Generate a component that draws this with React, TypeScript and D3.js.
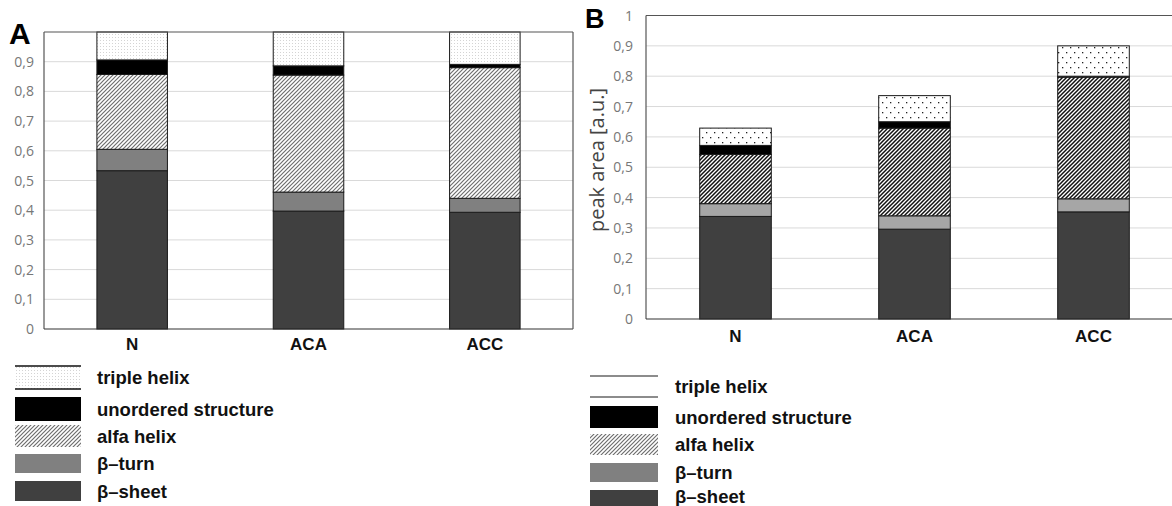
import React from "react";
import * as d3 from "d3";

// Secondary-structure fractions, stacked bottom to top
const categories = ["N", "ACA", "ACC"];
const structures = ["sheet", "turn", "alfa", "unordered", "triple"];

// Panel A: relative contribution (sums to 1)
const sheetA = [0.533, 0.397, 0.393];
const turnA = [0.072, 0.064, 0.047];
const alfaA = [0.252, 0.394, 0.44];
const unorderedA = [0.049, 0.031, 0.011];
const tripleA = [0.094, 0.114, 0.109];

// Panel B: absolute peak area [a.u.]
const sheetB = [0.338, 0.296, 0.353];
const turnB = [0.042, 0.044, 0.043];
const alfaB = [0.162, 0.289, 0.401];
const unorderedB = [0.03, 0.021, 0.003];
const tripleB = [0.057, 0.086, 0.1];

const yTicksA = [0, 0.1, 0.2, 0.3, 0.4, 0.5, 0.6, 0.7, 0.8, 0.9];
const yTicksB = [0, 0.1, 0.2, 0.3, 0.4, 0.5, 0.6, 0.7, 0.8, 0.9, 1];

const legendLabels = ["triple helix", "unordered structure", "alfa helix", "β–turn", "β–sheet"];

const fmt = (v: number) => String(+v.toFixed(1)).replace(".", ",");

function buildRows(cols: number[][]) {
  return categories.map((c, i) => {
    const row: any = { cat: c };
    structures.forEach((s, k) => (row[s] = cols[k][i]));
    return row;
  });
}

type PanelProps = {
  id: string;
  rows: any[];
  ticks: number[];
  x0: number;
  x1: number;
  y0: number;
  y1: number;
  fills: Record<string, string>;
  boxRight: boolean;
  tickX: number;
  catY: number;
};

function Panel({ id, rows, ticks, x0, x1, y0, y1, fills, boxRight, tickX, catY }: PanelProps) {
  const x = d3.scaleBand().domain(categories).range([x0, x1]).paddingInner(0.6).paddingOuter(0.3);
  const y = d3.scaleLinear().domain([0, 1]).range([y0, y1]);
  const series = d3.stack().keys(structures)(rows);
  return (
    <g>
      {ticks.map((t) => (
        <g key={id + "t" + t}>
          {t > 0 && t < 1 && (
            <line x1={x0} x2={x1} y1={y(t)} y2={y(t)} stroke="#d9d9d9" strokeWidth={1} />
          )}
          <text
            x={tickX}
            y={y(t)}
            dy="0.36em"
            textAnchor="end"
            fontFamily="Open Sans, sans-serif"
            fontSize={14}
            fill="#777"
          >
            {fmt(t)}
          </text>
        </g>
      ))}
      {series.map((s) =>
        s.map((d: any, i: number) => {
          const h = y(d[0]) - y(d[1]);
          if (h <= 0) return null;
          return (
            <rect
              key={id + s.key + i}
              x={x(categories[i])}
              y={y(d[1])}
              width={x.bandwidth()}
              height={h}
              fill={fills[s.key]}
              stroke="#1a1a1a"
              strokeWidth={1}
            />
          );
        })
      )}
      {/* plot frame */}
      <line x1={x0} x2={x0} y1={y1} y2={y0} stroke="#555" strokeWidth={1.2} />
      <line x1={x0} x2={x1} y1={y1} y2={y1} stroke="#555" strokeWidth={1.2} />
      <line x1={x0} x2={x1} y1={y0} y2={y0} stroke="#333" strokeWidth={1.2} />
      {boxRight && <line x1={x1} x2={x1} y1={y1} y2={y0} stroke="#555" strokeWidth={1.2} />}
      {categories.map((c) => (
        <text
          key={id + "c" + c}
          x={(x(c) as number) + x.bandwidth() / 2}
          y={catY}
          textAnchor="middle"
          fontFamily="Liberation Sans, Arial, sans-serif"
          fontWeight="bold"
          fontSize={17}
          fill="#111"
        >
          {c}
        </text>
      ))}
    </g>
  );
}

type LegendProps = {
  id: string;
  sx: number;
  sw: number;
  tx: number;
  rows: [number, number][];
  textY?: number[];
  fills: string[];
  tripleLine: string;
  fontSize: number;
};

function Legend({ id, sx, sw, tx, rows, textY, fills, tripleLine, fontSize }: LegendProps) {
  return (
    <g>
      {legendLabels.map((lab, i) => {
        const [top, bot] = rows[i];
        const ty = textY ? textY[i] : (top + bot) / 2;
        return (
          <g key={id + lab}>
            {i === 0 ? (
              <g>
                <rect x={sx} y={top} width={sw} height={bot - top} fill={fills[0]} />
                <line x1={sx} x2={sx + sw} y1={top} y2={top} stroke={tripleLine} strokeWidth={1.3} />
                <line x1={sx} x2={sx + sw} y1={bot} y2={bot} stroke={tripleLine} strokeWidth={1.3} />
              </g>
            ) : (
              <rect x={sx} y={top} width={sw} height={bot - top} fill={fills[i]} />
            )}
            <text
              x={tx}
              y={ty}
              dy="0.36em"
              fontFamily="Liberation Sans, Arial, sans-serif"
              fontWeight="bold"
              fontSize={fontSize}
              fill="#111"
            >
              {lab}
            </text>
          </g>
        );
      })}
    </g>
  );
}

export default function App() {
  const rowsA = buildRows([sheetA, turnA, alfaA, unorderedA, tripleA]);
  const rowsB = buildRows([sheetB, turnB, alfaB, unorderedB, tripleB]);

  const fillsA = {
    sheet: "#404040",
    turn: "#808080",
    alfa: "url(#hatchA)",
    unordered: "#000",
    triple: "url(#dotsA)",
  };
  const fillsB = {
    sheet: "#404040",
    turn: "#a6a6a6",
    alfa: "url(#hatchB)",
    unordered: "#000",
    triple: "url(#dotsB)",
  };

  return (
    <svg
      width={1172}
      height={506}
      style={{ position: "absolute", left: 0, top: 0, background: "#fff" }}
    >
      <defs>
        <pattern id="hatchA" patternUnits="userSpaceOnUse" width={4} height={4}>
          <rect width={4} height={4} fill="#fff" />
          <path d="M-1,1 l2,-2 M0,4 l4,-4 M3,5 l2,-2" stroke="#6e6e6e" strokeWidth={1.2} />
        </pattern>
        <pattern id="hatchB" patternUnits="userSpaceOnUse" width={4} height={4}>
          <rect width={4} height={4} fill="#fff" />
          <path d="M-1,1 l2,-2 M0,4 l4,-4 M3,5 l2,-2" stroke="#111" strokeWidth={1.5} />
        </pattern>
        <pattern id="dotsA" patternUnits="userSpaceOnUse" width={3} height={3}>
          <rect width={3} height={3} fill="#fff" />
          <rect x={1} y={1} width={1} height={1} fill="#d4d4d4" />
        </pattern>
        <pattern id="dotsB" patternUnits="userSpaceOnUse" width={8} height={10}>
          <rect width={8} height={10} fill="#fff" />
          <rect x={2} y={2} width={1.3} height={1.3} fill="#222" />
          <rect x={6} y={7} width={1.3} height={1.3} fill="#222" />
        </pattern>
      </defs>

      {/* Panel A */}
      <text x={9} y={44} fontFamily="Liberation Sans, Arial, sans-serif" fontWeight="bold" fontSize={30} fill="#000">
        A
      </text>
      <Panel
        id="A"
        rows={rowsA}
        ticks={yTicksA}
        x0={44}
        x1={573}
        y0={329}
        y1={32}
        fills={fillsA}
        boxRight={true}
        tickX={34}
        catY={350}
      />
      <Legend
        id="LA"
        sx={15}
        sw={66}
        tx={97}
        rows={[
          [366, 389],
          [397, 421],
          [425, 447],
          [454, 473],
          [481, 501],
        ]}
        fills={["url(#dotsA)", "#000", "url(#hatchA)", "#808080", "#404040"]}
        tripleLine="#111"
        fontSize={18.5}
      />

      {/* Panel B */}
      <text x={585} y={28} fontFamily="Liberation Sans, Arial, sans-serif" fontWeight="bold" fontSize={27} fill="#000">
        B
      </text>
      <text
        transform="translate(604,160) rotate(-90)"
        textAnchor="middle"
        fontFamily="Open Sans, sans-serif"
        fontSize={20}
        fill="#444"
      >
        peak area [a.u.]
      </text>
      <Panel
        id="B"
        rows={rowsB}
        ticks={yTicksB}
        x0={646}
        x1={1183}
        y0={319}
        y1={15.5}
        fills={fillsB}
        boxRight={false}
        tickX={633}
        catY={342}
      />
      <Legend
        id="LB"
        sx={590}
        sw={68}
        tx={675}
        rows={[
          [376, 397],
          [406, 428],
          [434, 455],
          [463, 482],
          [490, 510],
        ]}
        textY={[386.5, 417, 444.5, 472.5, 496]}
        fills={["#fff", "#000", "url(#hatchA)", "#808080", "#404040"]}
        tripleLine="#666"
        fontSize={18.5}
      />
    </svg>
  );
}
